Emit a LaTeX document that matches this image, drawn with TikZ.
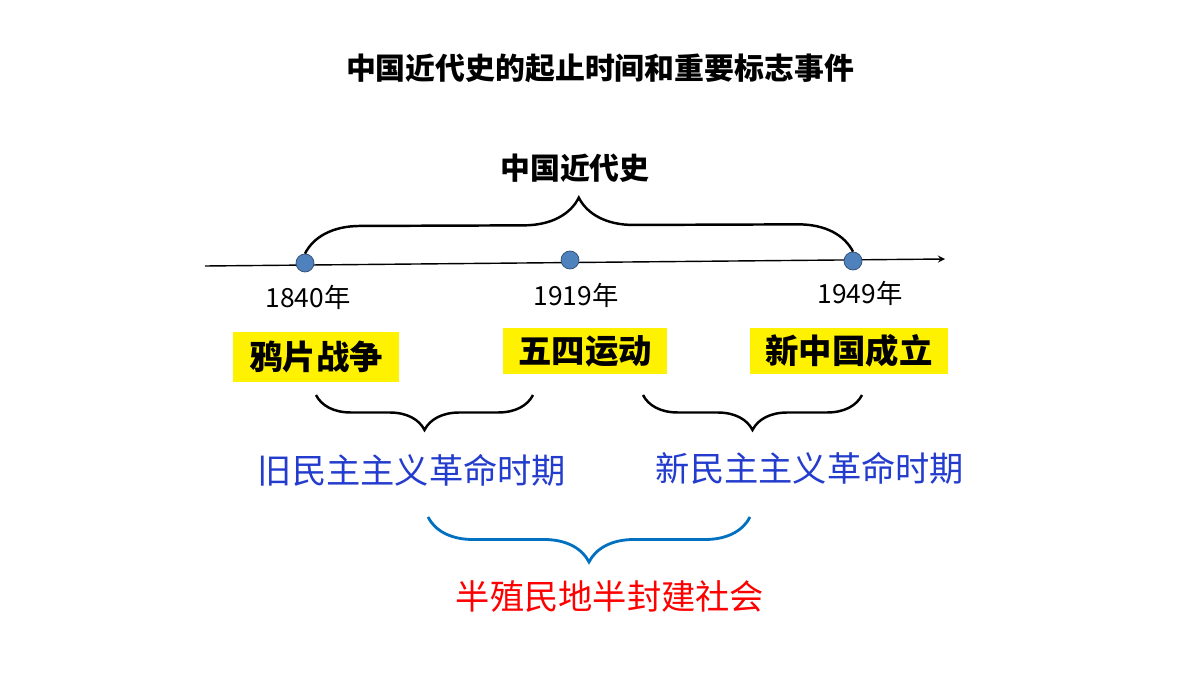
\documentclass[tikz,border=0pt]{standalone}
\usepackage{fontspec}
\setmainfont{Noto Sans CJK SC}
\usetikzlibrary{decorations.pathreplacing}
\definecolor{dotblue}{RGB}{79,129,189}
\definecolor{textblue}{RGB}{35,60,205}
\definecolor{bracecol}{RGB}{0,112,192}
\tikzset{
  headtxt/.style={font=\fontsize{17}{20}\selectfont\bfseries},
  yeartxt/.style={font=\fontsize{15}{18}\selectfont},
  eventbox/.style={fill=yellow, inner sep=0pt, minimum height=1cm, font=\fontsize{19}{22}\selectfont\bfseries},
  periodtxt/.style={font=\fontsize{19.5}{22}\selectfont, text=textblue},
  dot/.style={circle, fill=dotblue, draw=dotblue!60!black, inner sep=0pt, minimum size=0.36cm},
  bigbrace/.style={decorate, thick, decoration={brace, amplitude=#1}},
}
\begin{document}
\begin{tikzpicture}[x=0.02cm, y=-0.02cm]
\useasboundingbox (0,0) rectangle (1200,675);

\node[headtxt] (title) at (600,68) {中国近代史的起止时间和重要标志事件};
\node[headtxt] (modern) at (575,168) {中国近代史};

% time axis
\coordinate (axisL) at (205,266);
\coordinate (axisR) at (945,259);
\draw[thick, -stealth] (axisL) -- (axisR);
\node[dot] (d1840) at (305,263) {};
\node[dot] (d1919) at (570,260) {};
\node[dot] (d1949) at (853,261) {};
\draw[bigbrace=1.1cm, line width=1.4pt] (d1840.north) -- (d1949.north);

\node[yeartxt] (y1840) at (308,297) {1840年};
\node[yeartxt] (y1919) at (576,295) {1919年};
\node[yeartxt] (y1949) at (860,293) {1949年};

% events
\node[eventbox, minimum width=3.34cm] (opium) at (316,357) {鸦片战争};
\node[eventbox, minimum width=3.28cm, minimum height=0.94cm] (maypf) at (585,351) {五四运动};
\node[eventbox, minimum width=3.96cm, minimum height=0.94cm] (prc) at (849,351) {新中国成立};

% periods
\coordinate (b1a) at (316,395);
\coordinate (b1b) at (533,395);
\coordinate (b2a) at (643,395);
\coordinate (b2b) at (862,395);
\draw[bigbrace=0.7cm, line width=1.4pt, decoration={mirror}] (b1a) -- (b1b);
\draw[bigbrace=0.7cm, line width=1.4pt, decoration={mirror}] (b2a) -- (b2b);
\node[periodtxt] (oldrev) at (412,470) {旧民主主义革命时期};
\node[periodtxt] (newrev) at (810,468) {新民主主义革命时期};

\coordinate (b3a) at (428,517);
\coordinate (b3b) at (750,517);
\draw[bigbrace=0.9cm, bracecol, line width=1.6pt, decoration={mirror}] (b3a) -- (b3b);
\node[font=\fontsize{19.5}{22}\selectfont, text=red] (society) at (610,597) {半殖民地半封建社会};
\end{tikzpicture}
\end{document}
